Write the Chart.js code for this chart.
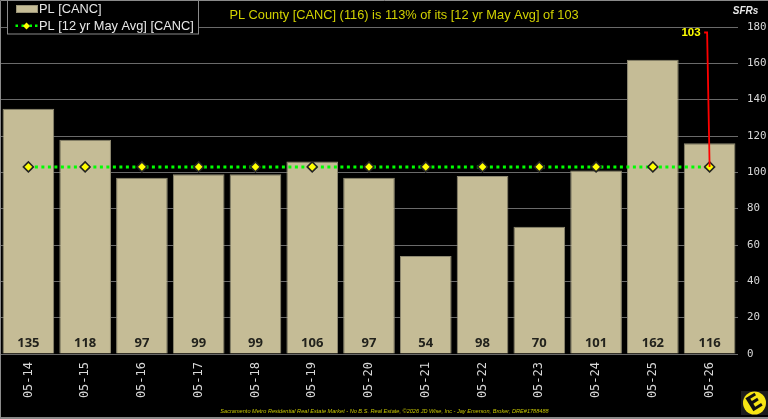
<!DOCTYPE html>
<html>
<head>
<meta charset="utf-8">
<style>
  html, body { margin: 0; padding: 0; background: #000; overflow: hidden; }
  #wrap { width: 768px; height: 419px; }
</style>
<script src="https://cdn.jsdelivr.net/npm/chart.js@4"></script>
</head>
<body>
<div id="wrap"><canvas id="grafico" width="768" height="419"></canvas></div>
<script>
const categories = ['05-14', '05-15', '05-16', '05-17', '05-18', '05-19', '05-20', '05-21', '05-22', '05-23', '05-24', '05-25', '05-26'];
const canc = [135, 118, 97, 99, 99, 106, 97, 54, 98, 70, 101, 162, 116];
const avg12yr = [103, 103, 103, 103, 103, 103, 103, 103, 103, 103, 103, 103, 103];
const yTicks = [0, 20, 40, 60, 80, 100, 120, 140, 160, 180];

const titleText = 'PL County [CANC] (116) is 113% of its [12 yr May Avg] of 103';
const footerText = 'Sacramento Metro Residential Real Estate Market - No B.S. Real Estate, ©2026 JD Wise, Inc - Jay Emerson, Broker, DRE#1788488';

const BAR_FILL = '#c5bc96';
const YELLOW = '#ffff00';

// valores dentro de las barras, el rótulo rojo y todo el texto suelto
const extras = {
  id: 'extras',
  afterDatasetsDraw(chart) {
    const { ctx, scales } = chart;
    const x = scales.x, y = scales.y;
    ctx.save();

    // valor de cada barra, abajo
    ctx.font = 'bold 13px "Open Sans"';
    ctx.fillStyle = '#22221c';
    ctx.textAlign = 'center';
    ctx.textBaseline = 'middle';
    canc.forEach((v, i) => ctx.fillText(v, x.getPixelForValue(i), y.bottom - 11));

    // línea roja desde el último promedio hasta su etiqueta
    const last = avg12yr.length - 1;
    const px = x.getPixelForValue(last);
    const py = y.getPixelForValue(avg12yr[last]);
    ctx.strokeStyle = '#ff0000';
    ctx.lineWidth = 1.8;
    ctx.beginPath();
    ctx.moveTo(px, py);
    ctx.lineTo(px - 2.5, 32.5);
    ctx.lineTo(px - 5.5, 32.5);
    ctx.stroke();
    ctx.font = 'bold 11.5px "Liberation Sans"';
    ctx.fillStyle = YELLOW;
    ctx.textAlign = 'right';
    ctx.fillText(avg12yr[last], px - 9, 33);

    // leyenda
    ctx.fillStyle = '#000';
    ctx.fillRect(7, 0, 192, 34);
    ctx.strokeStyle = '#8a8a8a';
    ctx.lineWidth = 1;
    ctx.strokeRect(7.5, 0.5, 191, 33.5);
    ctx.fillStyle = BAR_FILL;
    ctx.fillRect(17, 6, 20, 6);
    ctx.strokeStyle = '#9a9478';
    ctx.strokeRect(16.5, 5.5, 21, 7);
    ctx.fillStyle = '#00ff00';
    [15.5, 21.5, 29.5, 35].forEach(dx => ctx.fillRect(dx, 24.5, 2.5, 2.5));
    ctx.fillStyle = YELLOW;
    ctx.beginPath();
    ctx.moveTo(26.5, 22.5); ctx.lineTo(30, 26); ctx.lineTo(26.5, 29.5); ctx.lineTo(23, 26);
    ctx.closePath();
    ctx.fill();
    ctx.font = '12.8px "Liberation Sans"';
    ctx.fillStyle = '#e8e8e8';
    ctx.textAlign = 'left';
    ctx.fillText(chart.data.datasets[0].label, 39, 9.5);
    ctx.fillText(chart.data.datasets[1].label, 39, 26);

    // título
    ctx.font = '12.8px "Liberation Sans"';
    ctx.fillStyle = '#d2d200';
    ctx.textAlign = 'center';
    ctx.fillText(titleText, 404, 15.5);

    // unidad del eje
    ctx.font = 'italic bold 10px "Liberation Sans"';
    ctx.fillStyle = '#e8e8e8';
    ctx.fillText('SFRs', 745.5, 11.5);

    // pie
    ctx.font = 'italic 5.6px "Liberation Sans"';
    ctx.fillStyle = '#c8c800';
    ctx.fillText(footerText, 384.5, 411);

    // logo
    ctx.fillStyle = '#1c1c1c';
    ctx.fillRect(741, 391, 27, 24);
    ctx.fillStyle = '#f7e614';
    ctx.beginPath();
    ctx.arc(754.5, 403, 11.5, 0, Math.PI * 2);
    ctx.fill();
    ctx.translate(754.5, 403);
    ctx.rotate(-0.55);
    ctx.font = 'bold 21px "DejaVu Sans"';
    ctx.fillStyle = '#111';
    ctx.fillText('E', 0, 1);
    ctx.restore();

    // marco exterior
    ctx.save();
    ctx.strokeStyle = '#8a8a8a';
    ctx.lineWidth = 1;
    ctx.beginPath();
    ctx.moveTo(0.5, 417);
    ctx.lineTo(0.5, 0.5);
    ctx.lineTo(768, 0.5);
    ctx.stroke();
    ctx.fillStyle = '#8a8a8a';
    ctx.fillRect(0, 417, 768, 2);
    ctx.restore();
  }
};

new Chart(document.getElementById('grafico').getContext('2d'), {
  type: 'bar',
  plugins: [extras],
  data: {
    labels: categories,
    datasets: [
      {
        label: 'PL [CANC]',
        data: canc,
        backgroundColor: BAR_FILL,
        borderColor: '#8f8a72',
        borderWidth: { top: 1, left: 1, right: 1, bottom: 0 },
        barPercentage: 0.91,
        categoryPercentage: 1,
        order: 2
      },
      {
        type: 'line',
        label: 'PL [12 yr May Avg] [CANC]',
        data: avg12yr,
        borderColor: '#00ff00',
        borderWidth: 3,
        borderDash: [3, 3.5],
        fill: false,
        pointStyle: 'rectRot',
        pointRadius: 5,
        pointHoverRadius: 5,
        pointBackgroundColor: YELLOW,
        pointBorderColor: '#222',
        pointBorderWidth: 1.5,
        order: 1
      }
    ]
  },
  options: {
    responsive: false,
    animation: false,
    // sin autoPadding: el radio de los puntos no debe mover el área del gráfico
    layout: { autoPadding: false, padding: { left: 0, top: 27, right: 0, bottom: 0 } },
    plugins: {
      legend: { display: false },
      title: { display: false },
      tooltip: { enabled: false }
    },
    scales: {
      x: {
        grid: { display: false },
        border: { display: false },
        ticks: {
          autoSkip: false,
          minRotation: 90,
          maxRotation: 90,
          color: '#d8d8d8',
          padding: 0,
          font: { family: '"DejaVu Sans Mono"', size: 12 }
        },
        afterFit(scale) {
          scale.height = 65;
          scale.paddingLeft = 0;
          scale.paddingRight = 0;
        }
      },
      y: {
        position: 'right',
        min: 0,
        max: 180,
        afterBuildTicks(scale) { scale.ticks = yTicks.map(value => ({ value })); },
        grid: { color: '#6a6a6a', lineWidth: 1, drawTicks: false },
        border: { display: false },
        ticks: {
          color: '#d8d8d8',
          padding: 9,
          font: { family: '"DejaVu Sans Mono"', size: 10.8 }
        },
        afterFit(scale) {
          scale.width = 30;
          scale.paddingTop = 0;
          scale.paddingBottom = 0;
        }
      }
    }
  }
});
</script>
</body>
</html>
